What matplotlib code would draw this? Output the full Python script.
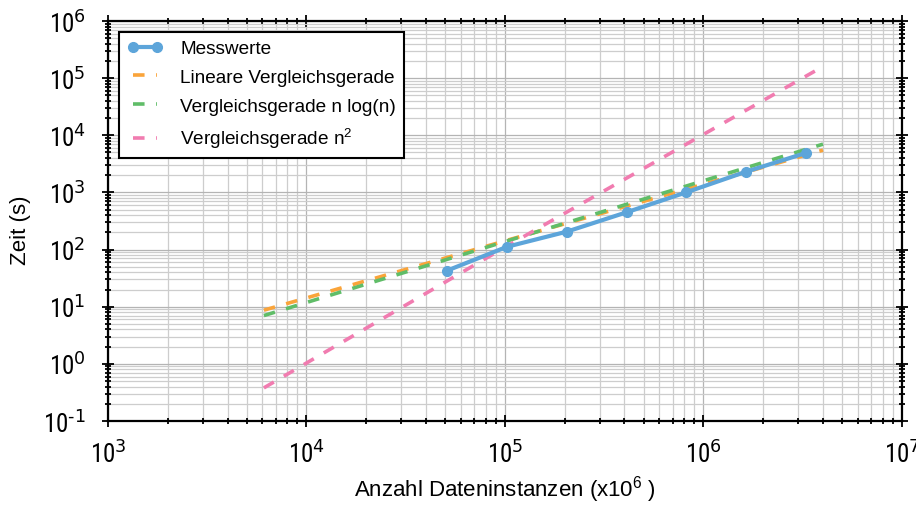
import matplotlib

matplotlib.use("Agg")
import matplotlib.pyplot as plt
from matplotlib.ticker import FuncFormatter
import numpy as np

plt.rcParams.update(
    {
        "font.family": ["Liberation Sans", "DejaVu Sans"],
        "mathtext.default": "regular",
        "axes.unicode_minus": False,
    }
)

# measured runtimes (doubling instance counts)
n_meas = [51200, 102400, 204800, 409600, 819200, 1638400, 3276800]
t_meas = [43, 112, 206, 449, 1005, 2306, 4900]

# comparison curves, sampled at start / middle / end
n_ref = [6100, 100000, 4000000]
t_lin = [8.7, 142, 5500]
t_nlogn = [7.0, 138, 7000]
t_sq = [0.38, 110, 160000]

BLUE = "#5DA5DA"
ORANGE = "#FAA43A"
GREEN = "#60BD68"
PINK = "#F17CB0"

fig = plt.figure(figsize=(9.16, 5.06), dpi=100)
ax = fig.add_axes([0.1179, 0.166, 0.8668, 0.7905])

dash = (3.2, 3.2)
ax.plot(n_meas, t_meas, color=BLUE, lw=3, marker="o", ms=7, label="Messwerte", zorder=5)
ax.plot(n_ref, t_lin, color=ORANGE, lw=2.6, dashes=dash, label="Lineare Vergleichsgerade", zorder=4)
ax.plot(n_ref, t_nlogn, color=GREEN, lw=2.6, dashes=dash, label="Vergleichsgerade n log(n)", zorder=4)
ax.plot(n_ref, t_sq, color=PINK, lw=2.6, dashes=dash, label="Vergleichsgerade n$^2$", zorder=4)

ax.set_xscale("log")
ax.set_yscale("log")
ax.set_xlim(1e3, 1e7)
ax.set_ylim(1e-1, 1e6)


def _pow10(v, pos):
    e = int(round(np.log10(v)))
    # plain hyphen for negative exponents
    return r"$10^{\text{%s}}$" % str(e)


ax.xaxis.set_major_formatter(FuncFormatter(_pow10))
ax.yaxis.set_major_formatter(FuncFormatter(_pow10))

ax.grid(True, which="major", color="#b4b4b4", lw=0.9)
ax.grid(True, which="minor", color="#cdcdcd", lw=0.9)
ax.set_axisbelow(True)

for s in ax.spines.values():
    s.set_linewidth(1.6)

ax.tick_params(which="both", direction="inout", top=True, right=True, width=1.3)
ax.tick_params(which="major", length=8)
ax.tick_params(which="minor", length=5)
ax.tick_params(axis="y", which="major", pad=12)
ax.tick_params(axis="x", which="major", pad=10)
for lab in ax.get_xticklabels() + ax.get_yticklabels():
    lab.set_fontfamily(["Roboto Condensed", "Liberation Sans"])
    lab.set_fontsize(18)

ax.set_xlabel("Anzahl Dateninstanzen (x10$^{6}$ )", fontsize=16, labelpad=4)
ax.set_ylabel("Zeit (s)", fontsize=16)
ax.yaxis.set_label_coords(-0.097, 0.48)

leg = ax.legend(
    loc="upper left",
    fontsize=13.7,
    frameon=True,
    fancybox=False,
    edgecolor="black",
    framealpha=1,
    borderaxespad=0.6,
    numpoints=2,
    handlelength=1.9,
    handletextpad=0.9,
    labelspacing=0.6,
)
leg.get_frame().set_linewidth(1.5)

fig.savefig("out.png", dpi=100)
